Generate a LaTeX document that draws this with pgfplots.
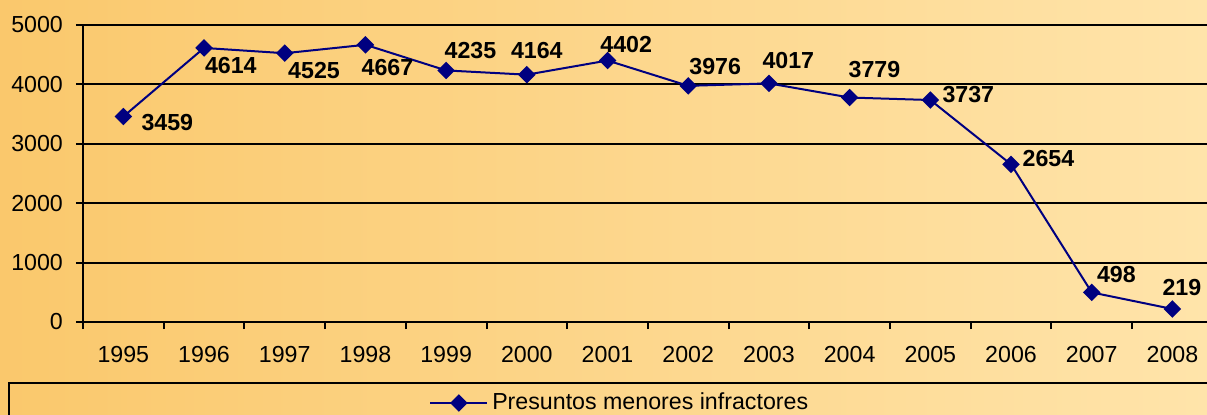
\documentclass[border=0pt]{standalone}
\usepackage{fontspec}
\setmainfont{Liberation Sans}
\usepackage{pgfplots}
\pgfplotsset{compat=1.18}
\definecolor{bgL}{RGB}{250,200,108}
\definecolor{bgR}{RGB}{255,228,170}
\definecolor{navyline}{RGB}{0,0,128}
\newcommand\fs{\fontsize{11.6}{13.5}\selectfont}
\tikzset{lab/.style={anchor=center, font=\fs\bfseries, text=black}}

\begin{document}
\fs
\begin{tikzpicture}
\useasboundingbox (0,0) rectangle (603.5pt,207pt);
\clip (0,0) rectangle (603.5pt,207pt);
\shade[left color=bgL, right color=bgR] (0,0) rectangle (603.5pt,207pt);
\draw[line width=1pt] (4.25pt,-20pt) rectangle (700pt,15.5pt);
\begin{axis}[
  at={(41.5pt,46pt)}, anchor=south west,
  scale only axis, width=564.9pt, height=148.5pt,
  xmin=-0.5, xmax=13.5, ymin=0, ymax=5000,
  axis lines*=left,
  axis line style={line width=1pt, black},
  ytick={0,1000,...,5000},
  ymajorgrids,
  grid style={black, line width=1pt},
  xtick={-0.5,0.5,...,13.5},
  x tick label as interval,
  xticklabels={1995,1996,1997,1998,1999,2000,2001,2002,2003,2004,2005,2006,2007,2008},
  tick align=outside,
  major tick length=3.5pt,
  tick style={black, line width=1pt},
  tick label style={font=\fs},
  /pgf/number format/assume math mode=true,
  /pgf/number format/1000 sep={},
  xticklabel shift=4.5pt,
  yticklabel shift=2.5pt,
  clip=false,
  legend style={at={(0.476,-0.2727)}, anchor=center, draw=none, fill=none,
    font=\fs},
  legend image code/.code={\draw[mark repeat=2,mark phase=2] plot coordinates {(0cm,0cm) (0.5cm,0cm) (1cm,0cm)};},
]
\addplot[color=navyline, line width=1pt, mark=square*, mark size=2.6pt,
  mark options={rotate=45, fill=navyline, draw=navyline}]
  coordinates {(0,3459) (1,4614) (2,4525) (3,4667) (4,4235) (5,4164) (6,4402)
    (7,3976) (8,4017) (9,3779) (10,3737) (11,2654) (12,498) (13,219)};
\addlegendentry{Presuntos menores infractores}
\node[lab, xshift=22pt, yshift=-2.75pt] at (axis cs:0,3459) {3459};
\node[lab, xshift=13.4pt, yshift=-8.7pt] at (axis cs:1,4614) {4614};
\node[lab, xshift=14.65pt, yshift=-8.85pt] at (axis cs:2,4525) {4525};
\node[lab, xshift=11pt, yshift=-11.5pt] at (axis cs:3,4667) {4667};
\node[lab, xshift=12.15pt, yshift=9.85pt] at (axis cs:4,4235) {4235};
\node[lab, xshift=5pt, yshift=11.85pt] at (axis cs:5,4164) {4164};
\node[lab, xshift=9.35pt, yshift=8pt] at (axis cs:6,4402) {4402};
\node[lab, xshift=13.5pt, yshift=9.85pt] at (axis cs:7,3976) {3976};
\node[lab, xshift=9.7pt, yshift=11.65pt] at (axis cs:8,4017) {4017};
\node[lab, xshift=12.4pt, yshift=13.85pt] at (axis cs:9,3779) {3779};
\node[lab, xshift=19pt, yshift=2.5pt] at (axis cs:10,3737) {3737};
\node[lab, xshift=18.7pt, yshift=3pt] at (axis cs:11,2654) {2654};
\node[lab, xshift=12.35pt, yshift=8.85pt] at (axis cs:12,498) {498};
\node[lab, xshift=4.75pt, yshift=10.5pt] at (axis cs:13,219) {219};
\end{axis}
\end{tikzpicture}
\end{document}
